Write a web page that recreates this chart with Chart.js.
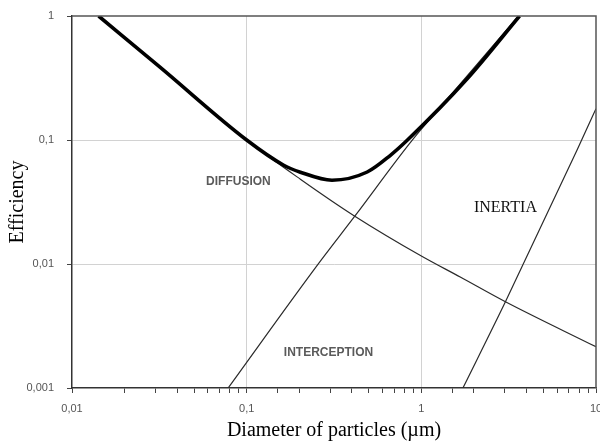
<!DOCTYPE html>
<html lang="en">
<head>
    <meta charset="UTF-8">
    <title>Filter efficiency vs particle diameter</title>
    <script src="https://cdn.jsdelivr.net/npm/chart.js"></script>
    <style>
        html, body { margin: 0; padding: 0; background: #fff; }
        #wrap { width: 600px; height: 444px; }
    </style>
</head>
<body>
    <div id="wrap"><canvas id="effChart"></canvas></div>

    <script>
        // values (x = diameter in µm, y = efficiency)
        const diffusionX = [0.0142, 0.0319, 0.1, 0.203, 0.416, 1, 1.67, 3.03, 10];
        const diffusionY = [1, 0.387, 0.1, 0.0483, 0.0243, 0.0116, 0.00785, 0.00496, 0.00215];

        const interceptionX = [0.0783, 0.254, 0.416, 0.885, 1.34, 3.6];
        const interceptionY = [0.001, 0.0098, 0.0243, 0.0993, 0.197, 1];

        const inertiaX = [1.73, 3.03, 7.78, 10];
        const inertiaY = [0.001, 0.00496, 0.0826, 0.179];

        const totalX = [0.0142, 0.0319, 0.1, 0.163, 0.203, 0.308, 0.49, 0.665, 0.83, 1.83, 3.65];
        const totalY = [1, 0.387, 0.1, 0.0626, 0.055, 0.0474, 0.0552, 0.0753, 0.0995, 0.312, 1];

        const xTickLabels = ['0,01', '0,1', '1', '10'];   // decades 10^-2 .. 10^1
        const yTickLabels = ['0,001', '0,01', '0,1', '1']; // decades 10^-3 .. 10^0

        const curveLabels = ['DIFFUSION', 'INTERCEPTION', 'INERTIA'];
        const curveLabelX = [0.0897, 0.294, 3.03];
        const curveLabelY = [0.0457, 0.00192, 0.0284];

        function pts(xs, ys) {
            return xs.map((x, i) => ({ x: x, y: ys[i] }));
        }

        function decade(v) {
            const e = Math.log10(v);
            return Math.abs(e - Math.round(e)) < 1e-6 ? Math.round(e) : null;
        }

        // frame on top/right + curve captions
        const extras = {
            id: 'extras',
            afterDatasetsDraw(chart) {
                const { ctx, chartArea: a, scales } = chart;
                ctx.save();
                ctx.strokeStyle = '#555';
                ctx.lineWidth = 1.5;
                ctx.beginPath();
                ctx.moveTo(a.left, a.top);
                ctx.lineTo(a.right, a.top);
                ctx.lineTo(a.right, a.bottom);
                ctx.stroke();

                ctx.textAlign = 'center';
                ctx.textBaseline = 'middle';
                curveLabels.forEach((t, i) => {
                    if (t === 'INERTIA') {
                        ctx.font = '16px "Liberation Serif", serif';
                        ctx.fillStyle = '#111';
                    } else {
                        ctx.font = 'bold 12px "Liberation Sans", sans-serif';
                        ctx.fillStyle = '#5a5a5a';
                    }
                    ctx.fillText(t, scales.x.getPixelForValue(curveLabelX[i]),
                        scales.y.getPixelForValue(curveLabelY[i]));
                });
                ctx.restore();
            }
        };

        const thin = { borderColor: '#2a2a2a', borderWidth: 1.2, pointRadius: 0, showLine: true,
                       cubicInterpolationMode: 'monotone', order: 1 };

        new Chart(document.getElementById('effChart'), {
            type: 'scatter',
            data: {
                datasets: [
                    Object.assign({ label: 'Total', data: pts(totalX, totalY) }, {
                        borderColor: '#000', borderWidth: 3.6, pointRadius: 0, showLine: true,
                        cubicInterpolationMode: 'monotone', order: 0
                    }),
                    Object.assign({ label: 'Diffusion', data: pts(diffusionX, diffusionY) }, thin),
                    Object.assign({ label: 'Interception', data: pts(interceptionX, interceptionY) }, thin),
                    Object.assign({ label: 'Inertia', data: pts(inertiaX, inertiaY) }, thin)
                ]
            },
            options: {
                responsive: true,
                maintainAspectRatio: false,
                animation: false,
                layout: { padding: { top: 16, right: 4, left: 0, bottom: 0 } },
                plugins: { legend: { display: false }, tooltip: { enabled: false } },
                scales: {
                    x: {
                        type: 'logarithmic',
                        min: 0.01,
                        max: 10,
                        afterFit: s => { s.height = 56; s.paddingLeft = 0; s.paddingRight = 0; },
                        border: { color: '#333', width: 1.5 },
                        grid: {
                            color: c => {
                                const d = decade(c.tick.value);
                                return (d === -1 || d === 0) ? '#d2d2d2' : 'rgba(0,0,0,0)';
                            },
                            tickColor: '#444',
                            tickLength: 5,
                            lineWidth: 1
                        },
                        ticks: {
                            autoSkip: false,
                            maxRotation: 0,
                            padding: 9,
                            color: '#555',
                            font: { family: '"Liberation Sans", Arial, sans-serif', size: 11 },
                            callback: v => {
                                const d = decade(v);
                                return d === null ? '' : xTickLabels[d + 2];
                            }
                        },
                        title: {
                            display: true,
                            text: 'Diameter of particles (\u00b5m)',
                            color: '#000',
                            font: { family: '"Liberation Serif", "Times New Roman", serif', size: 20 },
                            padding: { top: 0, bottom: 1 }
                        }
                    },
                    y: {
                        type: 'logarithmic',
                        min: 0.001,
                        max: 1,
                        afterFit: s => { s.width = 72; s.paddingTop = 0; s.paddingBottom = 0; },
                        border: { color: '#333', width: 1.5 },
                        grid: {
                            color: c => {
                                const d = decade(c.tick.value);
                                return (d === -2 || d === -1) ? '#d2d2d2' : 'rgba(0,0,0,0)';
                            },
                            tickColor: c => decade(c.tick.value) === null ? 'rgba(0,0,0,0)' : '#444',
                            tickLength: 5,
                            lineWidth: 1
                        },
                        ticks: {
                            autoSkip: false,
                            padding: 13,
                            color: '#555',
                            font: { family: '"Liberation Sans", Arial, sans-serif', size: 11 },
                            callback: v => {
                                const d = decade(v);
                                return d === null ? '' : yTickLabels[d + 3];
                            }
                        },
                        title: {
                            display: true,
                            text: 'Efficiency',
                            color: '#000',
                            font: { family: '"Liberation Serif", "Times New Roman", serif', size: 20 },
                            padding: { top: 6, bottom: 0 }
                        }
                    }
                }
            },
            plugins: [extras]
        });
    </script>
</body>
</html>
